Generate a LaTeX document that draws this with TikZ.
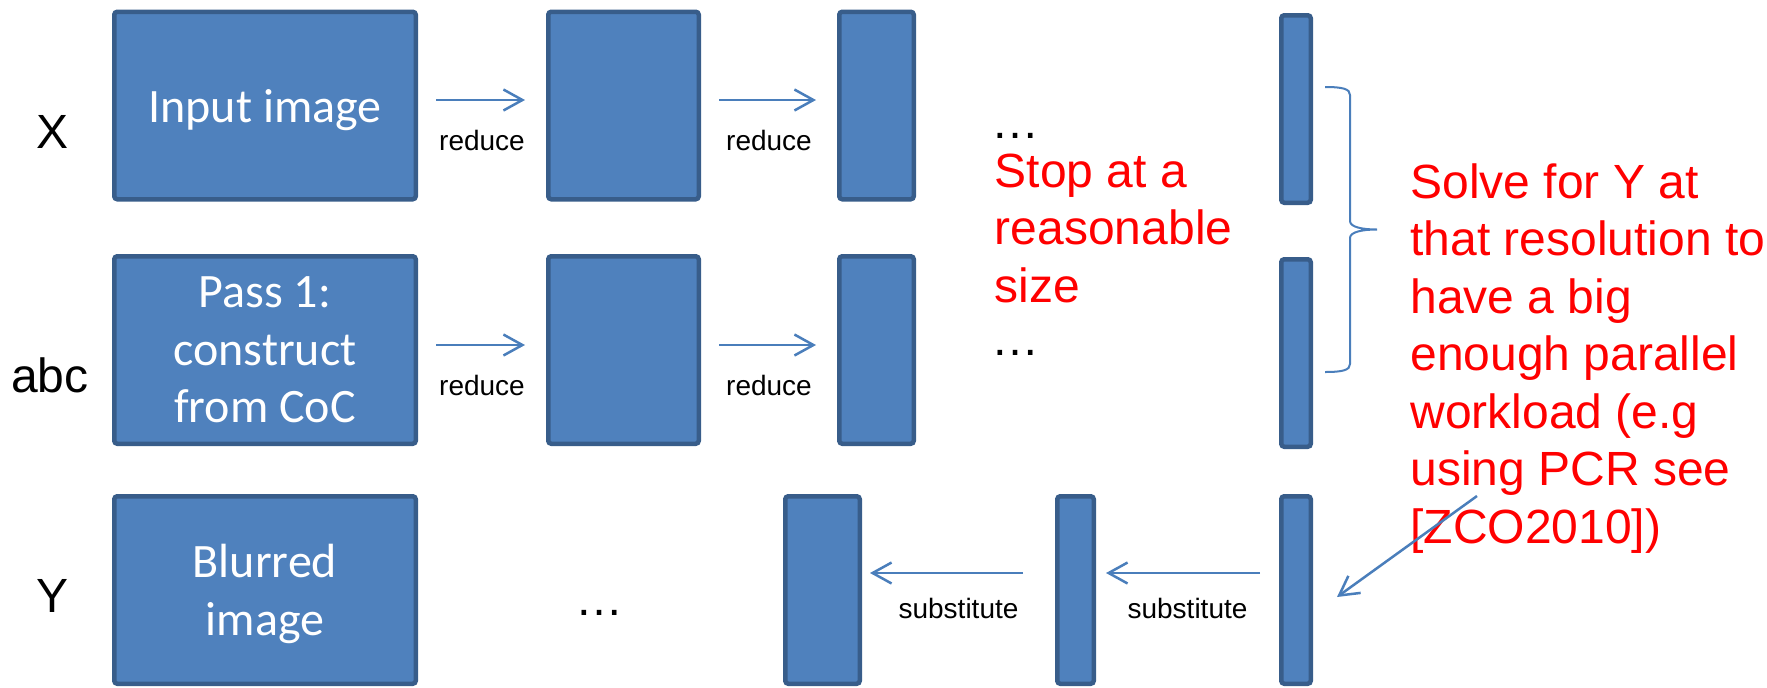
\documentclass[tikz,border=0pt]{standalone}
\usepackage{fontspec}
\setmainfont{Liberation Sans}
\newfontfamily\calibri{Carlito}
\usetikzlibrary{arrows.meta}

\definecolor{blkfill}{HTML}{4F81BD}
\definecolor{blkline}{HTML}{385D8A}
\definecolor{arrowblue}{HTML}{4A7EBB}

\tikzset{
  blk/.style={draw=blkline, fill=blkfill, line width=2.25pt, rounded corners=1.5pt,
    inner sep=0pt, text=white, align=center, text depth=0pt,
    font=\calibri\fontsize{24}{28.75}\selectfont},
  dims/.style 2 args={minimum width=#1, minimum height=#2},
  flow/.style={arrowblue, line width=1.25pt, -{Straight Barb[length=9.5pt,width=10.5pt]}},
  tag/.style={inner sep=0pt, anchor=base, font=\fontsize{24}{28.75}\selectfont},
  small/.style={inner sep=0pt, text=black, font=\fontsize{14}{16.8}\selectfont},
  note/.style={inner sep=0pt, anchor=north west, align=left, text=red,
    font=\fontsize{24}{28.75}\selectfont},
}

\begin{document}
\begin{tikzpicture}[x=0.5pt, y=-0.5pt]
        \useasboundingbox (0,0) rectangle (1767,687);

        % row X
        \node[blk, dims={150.75pt}{93.75pt}] (in1) at (265,105.5) {Input image};
        \node[blk, dims={75.25pt}{93.75pt}] (r1b) at (623.5,105.5) {};
        \node[blk, dims={37.25pt}{93.75pt}] (r1c) at (876.5,105.5) {};
        \node[blk, dims={14.75pt}{93.75pt}] (r1d) at (1296,109) {};

        % row abc
        \node[blk, dims={150.75pt}{93.75pt}] (pass1) at (265,350) {Pass 1:\\construct\\from CoC};
        \node[blk, dims={75.25pt}{93.75pt}] (r2b) at (623.5,350) {};
        \node[blk, dims={37.25pt}{93.75pt}] (r2c) at (876.5,350) {};
        \node[blk, dims={14.75pt}{93.75pt}] (r2d) at (1296,353) {};

        % row Y
        \node[blk, dims={150.75pt}{93.75pt}] (blur) at (265,590) {Blurred\\image};
        \node[blk, dims={37.25pt}{93.75pt}] (r3b) at (822.5,590) {};
        \node[blk, dims={18.25pt}{93.75pt}] (r3c) at (1075.5,590) {};
        \node[blk, dims={14.75pt}{93.75pt}] (r3d) at (1296,590) {};

        \node[tag] (xlab) at (53,148) {X};
        \node[tag] (abclab) at (50,392) {abc};
        \node[tag] (ylab) at (53,612) {Y};

        \node[tag, anchor=base west] (dots1) at (991.5,138) {…};
        \node[tag, anchor=base west] (dots2) at (991.5,355) {…};
        \node[tag, anchor=base west] (dots3) at (575.5,615) {…};

        \draw[flow, shorten <=9pt, shorten >=10.5pt] ([yshift=2.75pt]in1.east) -- ([yshift=2.75pt]r1b.west)
                node[small, midway, below=14.5pt] (red1) {reduce};
        \draw[flow, shorten <=9pt, shorten >=10.5pt] ([yshift=2.75pt]r1b.east) -- ([yshift=2.75pt]r1c.west)
                node[small, midway, below=14.5pt] (red2) {reduce};
        \draw[flow, shorten <=9pt, shorten >=10.5pt] ([yshift=2.5pt]pass1.east) -- ([yshift=2.5pt]r2b.west)
                node[small, midway, below=14.5pt] (red3) {reduce};
        \draw[flow, shorten <=9pt, shorten >=10.5pt] ([yshift=2.5pt]r2b.east) -- ([yshift=2.5pt]r2c.west)
                node[small, midway, below=14.5pt] (red4) {reduce};

        \draw[flow, shorten <=16pt, shorten >=4pt] ([yshift=8.5pt]r3c.west) -- ([yshift=8.5pt]r3b.east)
                node[small, midway, below=12pt] (sub1) {substitute};
        \draw[flow, shorten <=9.5pt, shorten >=5pt] ([yshift=8.5pt]r3d.west) -- ([yshift=8.5pt]r3c.east)
                node[small, midway, below=12pt] (sub2) {substitute};

        \node[note] (stop) at (994.5,153.5) {Stop at a\\reasonable\\size};
        \node[note] (solve) at (1410,163) {Solve for Y at\\that resolution to\\have a big\\enough parallel\\workload (e.g\\using PCR see\\{[}ZCO2010{]})};

        % brace over the two small blocks
        \coordinate (bracetop) at (1325,87);
        \coordinate (bracebot) at (1325,372);
        \draw[arrowblue, line width=1pt] (bracetop) .. controls +(18,0) and +(0,-6) .. ++(25,8) -- ++(0,126)
                .. controls +(0,6) and +(-15,0) .. ++(27,8.5)
                .. controls +(-15,0) and +(0,-6) .. ++(-27,8.5) -- ++(0,126)
                .. controls +(0,6) and +(18,0) .. (bracebot);

        \coordinate (pcr) at (1477,496);
        \coordinate (solvehere) at (1337,597);
        \draw[flow] (pcr) -- (solvehere);
\end{tikzpicture}
\end{document}
